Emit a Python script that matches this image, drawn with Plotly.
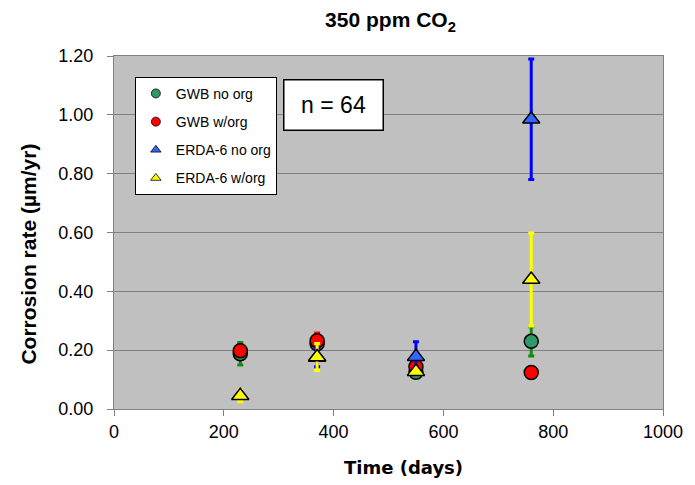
import plotly.graph_objects as go

days = [230, 370, 550, 760]

gwb_no_org = [0.188, 0.222, 0.125, 0.230]
gwb_no_org_err = [0.038, 0.015, 0.010, 0.050]

gwb_w_org = [0.198, 0.232, 0.144, 0.124]
gwb_w_org_err = [0.005, 0.026, 0.010, 0.004]

erda_no_org = [None, 0.175, 0.178, 0.985]
erda_no_org_err = [0.0, 0.031, 0.051, 0.205]

erda_w_org = [0.045, 0.177, 0.127, 0.440]
erda_w_org_err = [0.020, 0.046, 0.010, 0.158]

series = [
    ("GWB no org", gwb_no_org, gwb_no_org_err, "circle", "#2E9A6A", "#138A13", 14),
    ("GWB w/org", gwb_w_org, gwb_w_org_err, "circle", "#FF0000", "#FF0000", 14),
    ("ERDA-6 no org", erda_no_org, erda_no_org_err, "triangle-up", "#3366FF", "#0000FF", 15),
    ("ERDA-6 w/org", erda_w_org, erda_w_org_err, "triangle-up", "#FFFF00", "#FFFF00", 15),
]

fig = go.Figure()

for i, (name, vals, errs, sym, col, ecol, size) in enumerate(series):
    fig.add_trace(go.Scatter(
        x=days, y=vals, mode="markers", name=name, showlegend=False,
        marker=dict(symbol=sym, size=size, color=col, line=dict(color="black", width=1.5)),
        error_y=dict(type="data", array=errs, visible=True, color=ecol, thickness=3, width=3),
        hoverinfo="skip",
    ))

# legend entries (smaller markers, like the original)
for i, (name, vals, errs, sym, col, ecol, size) in enumerate(series):
    fig.add_trace(go.Scatter(
        x=[None], y=[None], mode="markers", name=name, legendgroup=name,
        marker=dict(symbol=sym, size=9, color=col, line=dict(color="black", width=0.8)),
    ))

fig.add_annotation(
    text="n = 64", xref="paper", yref="paper", x=0.3996, y=0.86,
    xanchor="center", yanchor="middle", showarrow=False,
    font=dict(family="Liberation Sans Narrow, Arial Narrow, Liberation Sans", size=23, color="black"),
    bgcolor="white", bordercolor="black", borderwidth=1.5, width=96, height=47, borderpad=1,
)

fig.add_annotation(
    text="<b>Corrosion rate (µm/yr)</b>", xref="paper", yref="paper",
    x=-0.155, y=0.44, xanchor="center", yanchor="middle", textangle=-90, showarrow=False,
    font=dict(family="Liberation Sans, Arial", size=21, color="black"),
)

fig.add_annotation(
    text="<b>Time (days)</b>", xref="paper", yref="paper",
    x=0.528, y=-0.167, xanchor="center", yanchor="middle", showarrow=False,
    font=dict(family="DejaVu Sans, Verdana", size=18, color="black"),
)

fig.update_layout(
    width=695, height=485,
    margin=dict(l=114, r=27, t=56, b=76),
    paper_bgcolor="white", plot_bgcolor="#C0C0C0",
    title=dict(text="<b>350 ppm CO<sub>2</sub></b>", x=0.5036, xref="paper", y=1 - 20 / 485,
               xanchor="center", yanchor="middle",
               font=dict(family="Liberation Sans, Arial", size=21, color="black")),
    legend=dict(x=0.038, y=0.941, xanchor="left", yanchor="top",
                bgcolor="white", bordercolor="black", borderwidth=1,
                font=dict(family="Liberation Sans, Arial", size=14, color="black"),
                tracegroupgap=7, itemwidth=30),
    showlegend=True,
)

fig.update_xaxes(
    range=[0, 1000], tickvals=[0, 200, 400, 600, 800, 1000],
    ticktext=["0", "200", "400", "600", "800", "1000"],
    showgrid=False, zeroline=False,
    showline=True, linecolor="#808080", linewidth=1, mirror=True,
    ticks="outside", ticklen=6, tickcolor="#808080",
    tickfont=dict(family="Liberation Sans, Arial", size=18, color="black"),
)

fig.update_yaxes(
    range=[0, 1.2], tickvals=[0, 0.2, 0.4, 0.6, 0.8, 1.0, 1.2],
    ticktext=["0.00", "0.20", "0.40", "0.60", "0.80", "1.00", "1.20"],
    showgrid=True, gridcolor="#808080", gridwidth=1, zeroline=False,
    showline=True, linecolor="#808080", linewidth=1, mirror=True,
    ticks="outside", ticklen=6, tickcolor="#808080",
    ticklabelstandoff=10,
    tickfont=dict(family="Liberation Sans, Arial", size=18, color="black"),
)

fig.write_html("out.html")
